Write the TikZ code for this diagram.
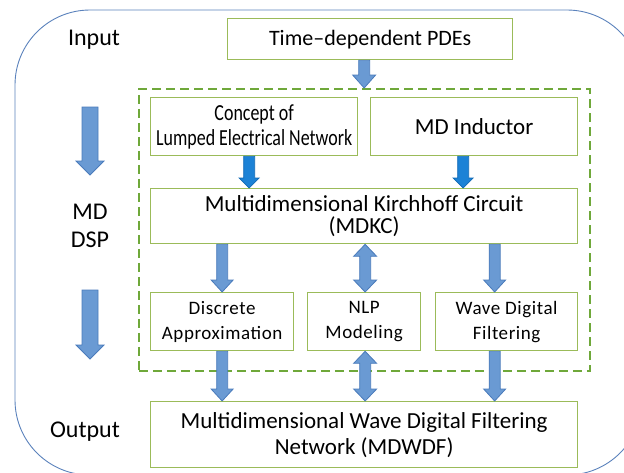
\documentclass[tikz,border=0pt]{standalone}
\usepackage{fontspec}
\setmainfont{Carlito}
\newfontfamily\narrowfont[FakeStretch=0.78]{Carlito}
\newfontfamily\spacedfont[LetterSpace=3]{Carlito}
\usetikzlibrary{calc}

\definecolor{frameblue}{HTML}{5B82BC}
\definecolor{boxgreen}{HTML}{9BBB59}
\definecolor{dashgreen}{HTML}{6FA83A}
\definecolor{arrowfill}{HTML}{6A9AD3}
\definecolor{arrowline}{HTML}{4A7BBB}
\definecolor{brightfill}{HTML}{1C82D6}
\definecolor{brightline}{HTML}{1069B5}

\tikzset{
  box/.style={draw=boxgreen, line width=1.3pt, fill=white, anchor=north west,
    align=center, inner sep=0pt, font=\fontsize{23}{22.5}\selectfont},
  smallbox/.style={box, font=\spacedfont\fontsize{19}{25}\selectfont},
  label/.style={align=center, inner sep=0pt, font=\fontsize{24}{28}\selectfont},
  blockarrow/.style={fill=arrowfill, draw=arrowline, line width=0.8pt, line join=miter},
  brightarrow/.style={fill=brightfill, draw=brightline, line width=0.8pt, line join=miter},
}

% vertical block arrow: #1 style, #2 start anchor, #3 end anchor, #4 x shift,
% #5 shaft half width, #6 head half width, #7 head length
\newcommand{\downarrowblock}[7]{%
  \path[#1] let \p1=($(#2)+(#4,0)$), \p2=(#3) in
    (\x1-#5pt,\y1) -- (\x1-#5pt,\y2+#7pt) -- (\x1-#6pt,\y2+#7pt) -- (\x1,\y2)
    -- (\x1+#6pt,\y2+#7pt) -- (\x1+#5pt,\y2+#7pt) -- (\x1+#5pt,\y1) -- cycle;}
% vertical double-headed block arrow
\newcommand{\dualarrowblock}[7]{%
  \path[#1] let \p1=($(#2)+(#4,0)$), \p2=(#3) in
    (\x1,\y1) -- (\x1+#6pt,\y1-#7pt) -- (\x1+#5pt,\y1-#7pt) -- (\x1+#5pt,\y2+#7pt)
    -- (\x1+#6pt,\y2+#7pt) -- (\x1,\y2) -- (\x1-#6pt,\y2+#7pt) -- (\x1-#5pt,\y2+#7pt)
    -- (\x1-#5pt,\y1-#7pt) -- (\x1-#6pt,\y1-#7pt) -- cycle;}

\begin{document}
\begin{tikzpicture}[x=1pt, y=-1pt]
\useasboundingbox (0,0) rectangle (624,472);
\clip (0,0) rectangle (624,472);

% outer frame
\draw[frameblue, line width=0.9pt, rounded corners=75pt] (15,10) rectangle (642,475);

% dashed group
\node[draw=dashgreen, dashed, dash pattern=on 9pt off 5pt, line width=1.8pt,
      minimum width=451pt, minimum height=282pt, anchor=north west, inner sep=0pt]
      (group) at (138,88) {};

% boxes
\node[box, minimum width=285pt, minimum height=41pt, font=\fontsize{22}{24}\selectfont]
  (pde) at (227,18) {Time–dependent PDEs};
\node[box, minimum width=207pt, minimum height=58pt, font=\narrowfont\fontsize{23}{25}\selectfont]
  (concept) at (150,97) {Concept of\\Lumped Electrical Network};
\node[box, minimum width=207pt, minimum height=58pt] (ind) at (370,97) {MD Inductor};
\node[box, minimum width=427pt, minimum height=55pt] (mdkc) at (150,188)
  {Multidimensional Kirchhoff Circuit\\(MDKC)};
\node[smallbox, minimum width=143pt, minimum height=58pt] (disc) at (150,292)
  {Discrete\\Approximation};
\node[smallbox, minimum width=113pt, minimum height=58pt] (nlp) at (307,292)
  {NLP\\Modeling};
\node[smallbox, minimum width=142pt, minimum height=58pt] (wdf) at (435,292)
  {Wave Digital\\Filtering};
\node[box, minimum width=427pt, minimum height=66pt, font=\fontsize{23}{26}\selectfont]
  (out) at (150,401) {Multidimensional Wave Digital Filtering\\Network (MDWDF)};

% side labels
\node[label] (lin) at (94,40) {Input};
\node[label] (lmd) at (90,226) {MD\\DSP};
\node[label] (lout) at (85,432) {Output};
\coordinate (a1s) at (90,107);
\coordinate (a1e) at (90,175);
\coordinate (a2s) at (90,290);
\coordinate (a2e) at (90,359);

% arrows
\downarrowblock{blockarrow}{pde.south}{group.north}{-6}{5.5}{11.5}{13}
\downarrowblock{blockarrow}{a1s}{a1e}{0}{8}{14}{14}
\downarrowblock{blockarrow}{a2s}{a2e}{0}{8}{14}{14}
\downarrowblock{brightarrow}{concept.south}{mdkc.north}{-5}{5.5}{10}{10}
\downarrowblock{brightarrow}{ind.south}{mdkc.north}{-11}{5.5}{10}{10}
\downarrowblock{blockarrow}{mdkc.south -| disc.south}{disc.north}{0}{5.5}{11}{12}
\dualarrowblock{blockarrow}{mdkc.south -| nlp.south}{nlp.north}{1}{5.5}{11.5}{12}
\downarrowblock{blockarrow}{mdkc.south -| wdf.south}{wdf.north}{-12}{5.5}{11}{12}
\downarrowblock{blockarrow}{disc.south}{out.north}{0}{5.5}{11}{12}
\dualarrowblock{blockarrow}{nlp.south}{out.north -| nlp.south}{1}{5.5}{11.5}{12}
\downarrowblock{blockarrow}{wdf.south}{out.north}{-12}{5.5}{11}{12}
\end{tikzpicture}
\end{document}
